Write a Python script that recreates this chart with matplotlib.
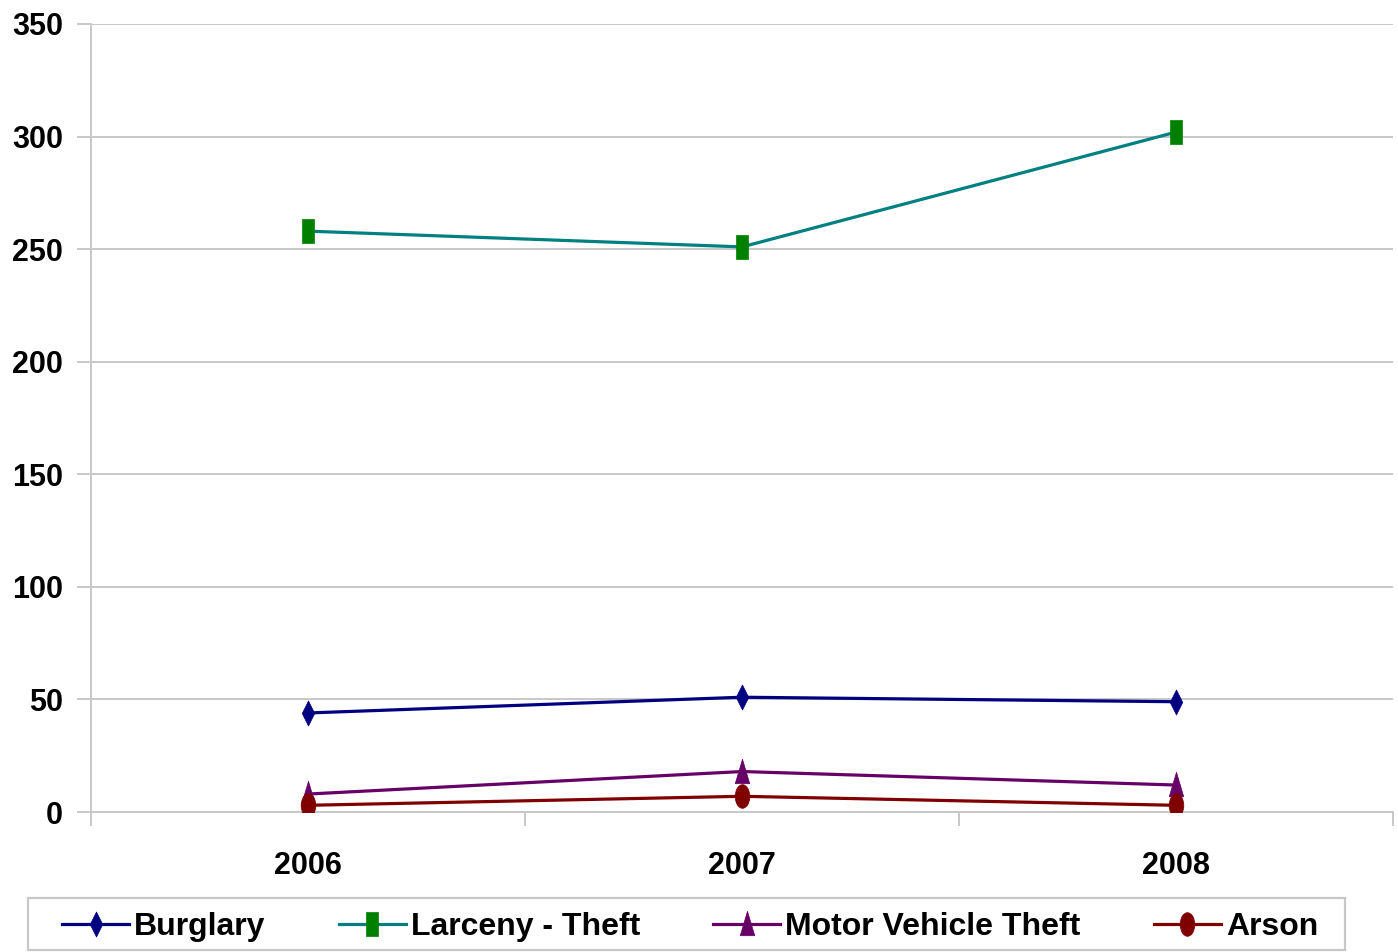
import numpy as np
import matplotlib.pyplot as plt
from matplotlib.path import Path
from matplotlib.patches import Rectangle

plt.rcParams['font.family'] = ['Liberation Sans', 'DejaVu Sans']
plt.rcParams['font.weight'] = 'bold'

GRID = "#c8c8c8"

years = ["2006", "2007", "2008"]
burglary = [44, 51, 49]
larceny = [258, 251, 302]
motor = [8, 18, 12]
arson = [3, 7, 3]


# ---------- squeezed markers (the source chart is narrower than tall) ---------
def _squeeze(path, sx=0.55):
    v = path.vertices.copy()
    v[:, 0] *= sx
    return Path(v, path.codes)


SQUARE = Path([[-0.55, -1], [0.55, -1], [0.55, 1], [-0.55, 1], [-0.55, -1]], closed=True)
DIAMOND = Path([[0, -1], [0.5, 0], [0, 1], [-0.5, 0], [0, -1]], closed=True)
TRIANGLE = Path([[-0.55, -0.85], [0.55, -0.85], [0, 1], [-0.55, -0.85]], closed=True)
ELLIPSE = _squeeze(Path.unit_circle(), 0.62)

series = [
    ("Burglary", burglary, "#000080", "#000080", DIAMOND, 18),
    ("Larceny - Theft", larceny, "#008080", "#008000", SQUARE, 17),
    ("Motor Vehicle Theft", motor, "#660066", "#660066", TRIANGLE, 19),
    ("Arson", arson, "#800000", "#800000", ELLIPSE, 17),
]

W, H = 1398, 952
fig = plt.figure(figsize=(W / 100, H / 100), dpi=100)
ax = fig.add_axes([0.0651, 0.147, 0.9314, 0.8278])

x = np.arange(len(years))
for name, vals, lc, mc, mk, ms in series:
    ax.plot(x, vals, color=lc, lw=2.3, marker=mk, ms=ms,
            markerfacecolor=mc, markeredgecolor=mc, markeredgewidth=0.5,
            label=name, zorder=3)

ax.set_xlim(-0.5, 2.5)
ax.set_ylim(0, 350)
ax.set_yticks(range(0, 351, 50))
ax.grid(axis="y", color=GRID, lw=1.4, zorder=0)
ax.set_axisbelow(True)

ax.set_xticks(x)
ax.set_xticklabels(years)
ax.set_xticks([-0.5, 0.5, 1.5, 2.5], minor=True)
ax.tick_params(axis="x", which="major", length=0, pad=28, labelsize=22)
ax.tick_params(axis="x", which="minor", length=10, width=1.4, color=GRID)
ax.tick_params(axis="y", length=10, width=1.4, color=GRID, pad=10, labelsize=22)

for s in ["top", "right"]:
    ax.spines[s].set_visible(False)
for s in ["left", "bottom"]:
    ax.spines[s].set_color(GRID)
    ax.spines[s].set_linewidth(1.4)

# legend frame is drawn by hand: wide side padding, narrow top/bottom
fig.patches.append(Rectangle((28 / W, 1 - 950 / H), (1345 - 28) / W, 52 / H,
                             transform=fig.transFigure, fill=False,
                             edgecolor=GRID, lw=1.6))
fig.legend(loc="center", bbox_to_anchor=(690 / W, 1 - 927 / H),
           ncol=4, frameon=False, fontsize=23, handlelength=2.1,
           handletextpad=0.15, borderaxespad=0, borderpad=0,
           columnspacing=2.3)

fig.savefig("out.png", dpi=100)
